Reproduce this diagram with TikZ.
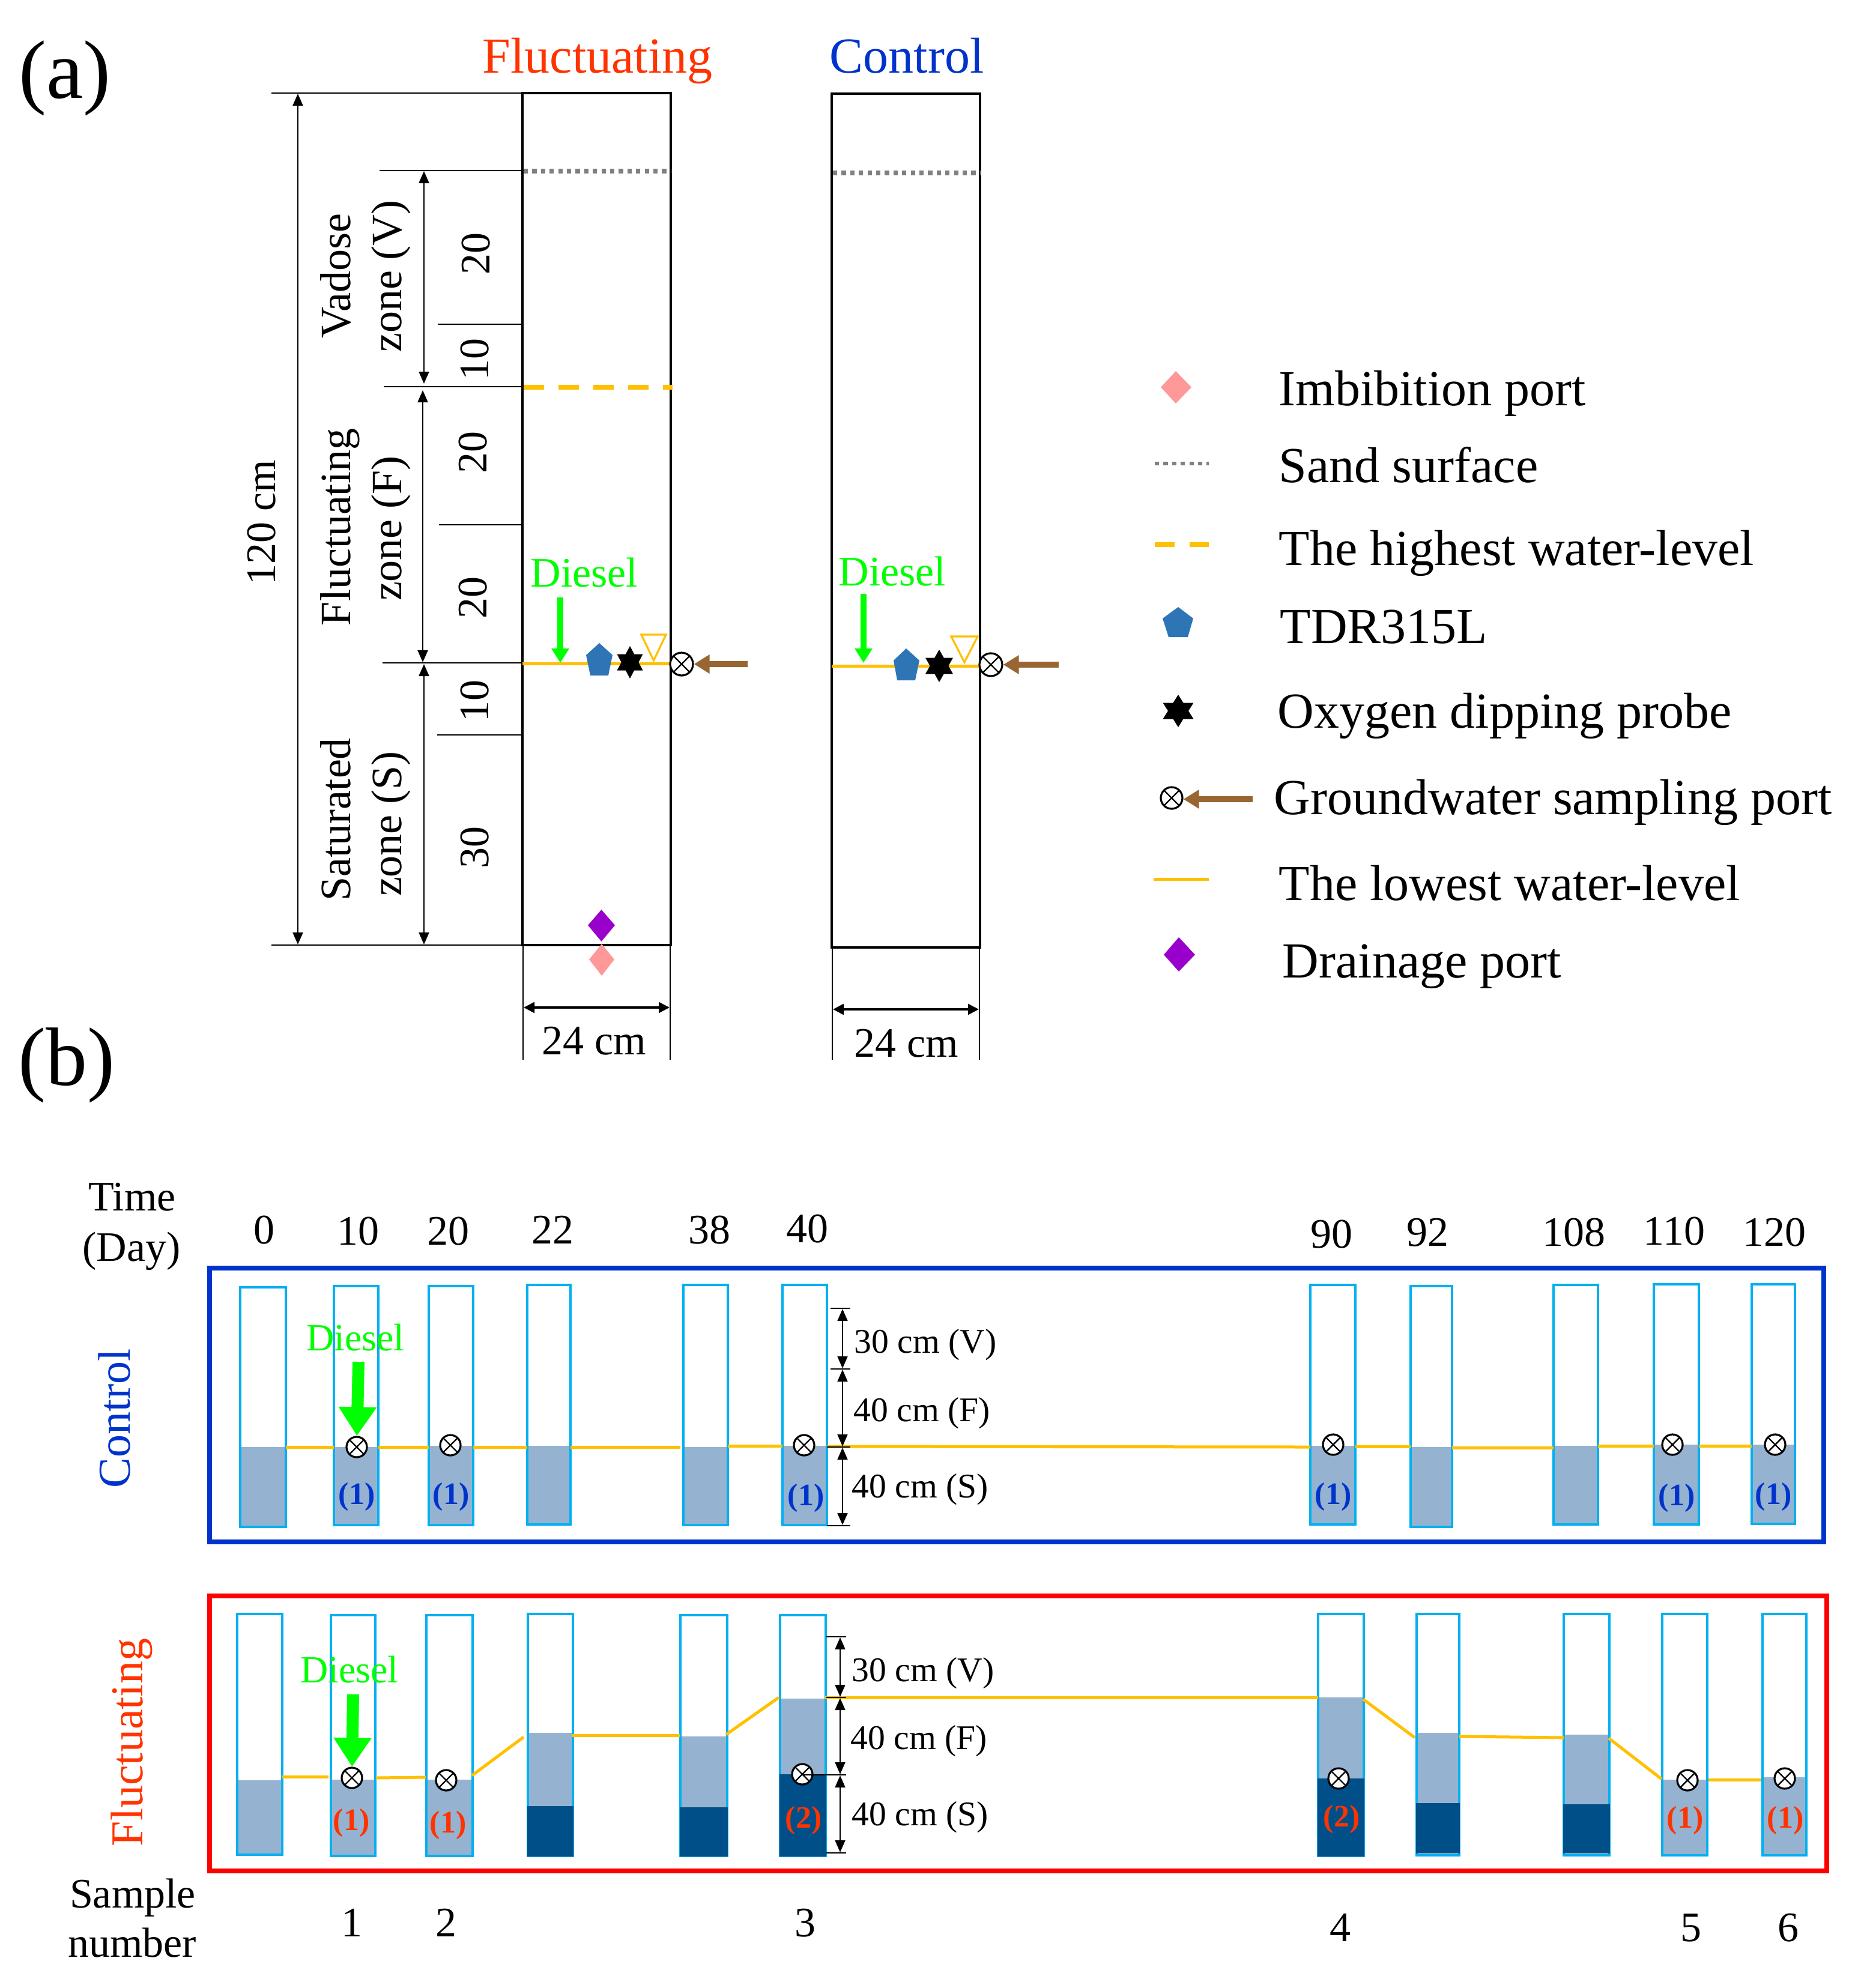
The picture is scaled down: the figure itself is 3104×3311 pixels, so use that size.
\documentclass[tikz,border=0pt]{standalone}
\usepackage{fontspec}
\setmainfont{Liberation Serif}
\usetikzlibrary{arrows.meta}
\definecolor{flucred}{RGB}{255,51,0}
\definecolor{ctrlblue}{RGB}{0,51,204}
\definecolor{tubecyan}{RGB}{0,176,240}
\definecolor{waterlight}{RGB}{149,179,208}
\definecolor{waterdark}{RGB}{0,79,136}
\definecolor{levelorange}{RGB}{255,192,0}
\definecolor{dieselgreen}{RGB}{0,255,0}
\definecolor{sensorblue}{RGB}{46,117,182}
\definecolor{portpink}{RGB}{255,153,153}
\definecolor{portpurple}{RGB}{153,0,204}
\definecolor{arrowbrown}{RGB}{153,102,51}
\tikzset{
  lab/.style={anchor=base,inner sep=0pt,font=\fontsize{17.5}{20}\selectfont},
  lablegend/.style={anchor=base west,inner sep=0pt,font=\fontsize{21}{24}\selectfont},
  labtitle/.style={anchor=base,inner sep=0pt,font=\fontsize{21}{24}\selectfont},
  labpanel/.style={anchor=base,inner sep=0pt,font=\fontsize{34.5}{38}\selectfont},
  labzone/.style={anchor=base west,inner sep=0pt,font=\fontsize{14.4}{17}\selectfont},
  labsample/.style={anchor=base,inner sep=0pt,font=\bfseries\fontsize{13}{15}\selectfont},
  column/.style={draw=black,line width=1.1pt},
  tick/.style={draw=black,line width=0.7pt},
  dim/.style={line width=0.7pt,{Triangle[length=5pt,width=4.2pt]}-{Triangle[length=5pt,width=4.2pt]}},
  dimwide/.style={line width=1pt,{Triangle[length=4.5pt,width=4.4pt]}-{Triangle[length=4.5pt,width=4.4pt]}},
  sandline/.style={draw=gray,line width=1.8pt,dash pattern=on 1.8pt off 1.8pt},
  highline/.style={draw=levelorange,line width=1.9pt,dash pattern=on 8.5pt off 6pt},
  lowline/.style={draw=levelorange,line width=1.25pt},
  tube/.style={draw=tubecyan,line width=1.05pt},
  port/.style={circle,draw=black,fill=white,line width=0.8pt,inner sep=0pt,minimum size=8.5pt,
    path picture={\draw[line width=0.6pt] (path picture bounding box.north west) -- (path picture bounding box.south east)
      (path picture bounding box.north east) -- (path picture bounding box.south west);}},
  brownarrow/.style={draw=arrowbrown,line width=2.5pt,-{Triangle[length=6.5pt,width=7.5pt,fill=arrowbrown]}},
  greenarrow/.style={draw=dieselgreen,line width=2.5pt,-{Triangle[length=6pt,width=7pt,fill=dieselgreen]}},
  greenbig/.style={draw=dieselgreen,line width=5pt,-{Triangle[length=12pt,width=15pt,fill=dieselgreen]}}
}
% six pointed probe mark: centre x, centre y, half width, half height
\newcommand{\oxyprobe}[4]{%
  \fill (#1,#2-#4) -- (#1+#3,#2+#4/2) -- (#1-#3,#2+#4/2) -- cycle;
  \fill (#1,#2+#4) -- (#1+#3,#2-#4/2) -- (#1-#3,#2-#4/2) -- cycle;}
\begin{document}
\begin{tikzpicture}[x=0.25pt,y=0.25pt,yscale=-1,xscale=1]
\useasboundingbox (0,0) rectangle (3104,3311);

%Panel (a) columns
\draw [column] (870,155) rectangle (1117,1574);
\draw [column] (1385,156) rectangle (1632,1578);
%Sand surface and highest level
\draw [sandline] (872,285) -- (1117,285);
\draw [sandline] (1387,288) -- (1632,288);
\draw [highline] (872,645) -- (1120,645);
%Lowest level
\draw [lowline] (870,1105) -- (1117,1105);
\draw [lowline] (1385,1109) -- (1632,1109);
%Left ticks
\draw [tick] (452,155) -- (870,155);
\draw [tick] (632,284) -- (870,284);
\draw [tick] (729,540) -- (870,540);
\draw [tick] (639,644) -- (870,644);
\draw [tick] (731,874) -- (870,874);
\draw [tick] (637,1104) -- (870,1104);
\draw [tick] (728,1224) -- (870,1224);
\draw [tick] (452,1574) -- (870,1574);
%Height arrows
\draw [dim] (496,156) -- (496,1573);
\draw [dim] (706,285) -- (706,639);
\draw [dim] (704,650) -- (704,1103);
\draw [dim] (706,1106) -- (706,1573);
%Width arrows
\draw [tick] (871,1574) -- (871,1765);
\draw [tick] (1116,1574) -- (1116,1765);
\draw [tick] (1386,1578) -- (1386,1765);
\draw [tick] (1631,1578) -- (1631,1765);
\draw [dimwide] (872,1678) -- (1115,1678);
\draw [dimwide] (1387,1681) -- (1630,1681);

%Marks in fluctuating column
\coordinate (dieselFa) at (933,995);
\coordinate (dieselFb) at (933,1104);
\draw [greenarrow] (dieselFa) -- (dieselFb);
\fill [sensorblue] (998,1071) -- (1020,1091) -- (1013,1125) -- (983,1125) -- (976,1091) -- cycle;
\oxyprobe{1049}{1103}{21.5}{27}
\draw [levelorange,line width=0.8pt] (1068,1057) -- (1109,1057) -- (1088.5,1100) -- cycle;
\node (portFa) [port,minimum size=9.5pt] at (1135,1106) {};
\coordinate (inletFa) at (1245,1106);
\draw [brownarrow] (inletFa) -- (portFa);
\fill [portpurple] (1001.5,1515) -- (1024,1541) -- (1001.5,1568) -- (979,1541) -- cycle;
\fill [portpink] (1002,1572) -- (1023,1598) -- (1002,1625) -- (981,1598) -- cycle;

%Marks in control column
\coordinate (dieselCa) at (1438,989);
\coordinate (dieselCb) at (1438,1104);
\draw [greenarrow] (dieselCa) -- (dieselCb);
\fill [sensorblue] (1509,1080) -- (1531,1100) -- (1524,1133) -- (1494,1133) -- (1488,1100) -- cycle;
\oxyprobe{1564}{1109}{23}{27}
\draw [levelorange,line width=0.8pt] (1584,1060) -- (1628,1060) -- (1606,1103) -- cycle;
\node (portCa) [port,minimum size=9.5pt] at (1650,1107) {};
\coordinate (inletCa) at (1763,1107);
\draw [brownarrow] (inletCa) -- (portCa);

% Text Node
\draw (108,163) node (panela) [labpanel] {(a)};
\draw (111,1807) node (panelb) [labpanel] {(b)};
\draw (995,121) node (titleF) [labtitle,flucred] {Fluctuating};
\draw (1510,121) node (titleC) [labtitle,ctrlblue] {Control};
\draw (973,977) node (dieselF) [lab,dieselgreen] {Diesel};
\draw (1486,975) node (dieselC) [lab,dieselgreen] {Diesel};
\draw (989,1756) node (widthF) [lab] {24 cm};
\draw (1509,1760) node (widthC) [lab] {24 cm};
\draw (458,870) node (heightall) [lab,rotate=90] {120 cm};
\draw (583,460) node (zoneVa) [lab,rotate=90,font=\fontsize{18}{20}\selectfont] {Vadose};
\draw (668,460) node (zoneVb) [lab,rotate=90,font=\fontsize{18}{20}\selectfont] {zone (V)};
\draw (583,878) node (zoneFa) [lab,rotate=90,font=\fontsize{18}{20}\selectfont] {Fluctuating};
\draw (668,880) node (zoneFb) [lab,rotate=90,font=\fontsize{18}{20}\selectfont] {zone (F)};
\draw (583,1365) node (zoneSa) [lab,rotate=90,font=\fontsize{18}{20}\selectfont] {Saturated};
\draw (668,1372) node (zoneSb) [lab,rotate=90,font=\fontsize{18}{20}\selectfont] {zone (S)};
\draw (815,422) node (parta) [lab,rotate=90] {20};
\draw (813,598) node (partb) [lab,rotate=90] {10};
\draw (810,753) node (partc) [lab,rotate=90] {20};
\draw (810,995) node (partd) [lab,rotate=90] {20};
\draw (813,1167) node (parte) [lab,rotate=90] {10};
\draw (813,1411) node (partf) [lab,rotate=90] {30};

%Legend
\fill [portpink] (1958,618) -- (1984,645) -- (1958,672) -- (1933,645) -- cycle;
\draw [sandline,line width=1.4pt] (1923,772) -- (2013,772);
\draw [highline,dash pattern=on 8.2pt off 6.2pt] (1923,907) -- (2016,907);
\fill [sensorblue] (1962,1011) -- (1987,1030) -- (1978,1061) -- (1946,1061) -- (1936,1030) -- cycle;
\oxyprobe{1962}{1184}{25.5}{27}
\node (portL) [port,minimum size=9pt] at (1951,1329) {};
\coordinate (inletL) at (2086,1331);
\draw [brownarrow] (inletL) -- (inletL -| portL.east);
\draw [lowline] (1921,1464) -- (2013,1464);
\fill [portpurple] (1963,1561) -- (1990,1590) -- (1963,1618) -- (1938,1590) -- cycle;
% Text Node
\draw (2129,675) node (legImb) [lablegend] {Imbibition port};
\draw (2129,803) node (legSand) [lablegend] {Sand surface};
\draw (2129,941) node (legHigh) [lablegend] {The highest water-level};
\draw (2131,1071) node (legTdr) [lablegend] {TDR315L};
\draw (2127,1212) node (legOxy) [lablegend] {Oxygen dipping probe};
\draw (2121,1356) node (legGw) [lablegend] {Groundwater sampling port};
\draw (2129,1499) node (legLow) [lablegend] {The lowest water-level};
\draw (2135,1628) node (legDrain) [lablegend] {Drainage port};

%Panel (b) frames
\draw [ctrlblue,line width=2pt] (349,2112) rectangle (3037,2568);
\draw [red,line width=2pt] (349,2658) rectangle (3042,3116);

%Control water
\fill [waterlight] (400,2410) rectangle (476,2543);
\fill [waterlight] (556,2410) rectangle (630,2540);
\fill [waterlight] (714,2408) rectangle (788,2540);
\fill [waterlight] (878,2408) rectangle (950,2539);
\fill [waterlight] (1138,2410) rectangle (1212,2540);
\fill [waterlight] (1303,2408) rectangle (1377,2540);
\fill [waterlight] (2182,2408) rectangle (2257,2539);
\fill [waterlight] (2349,2410) rectangle (2418,2543);
\fill [waterlight] (2587,2408) rectangle (2661,2539);
\fill [waterlight] (2754,2406) rectangle (2829,2539);
\fill [waterlight] (2917,2406) rectangle (2989,2538);
%Control tubes
\draw [tube] (400,2144) rectangle (476,2543);
\draw [tube] (556,2142) rectangle (630,2540);
\draw [tube] (714,2142) rectangle (788,2540);
\draw [tube] (878,2140) rectangle (950,2539);
\draw [tube] (1138,2140) rectangle (1212,2540);
\draw [tube] (1303,2140) rectangle (1377,2540);
\draw [tube] (2182,2140) rectangle (2257,2539);
\draw [tube] (2349,2142) rectangle (2418,2543);
\draw [tube] (2587,2140) rectangle (2661,2539);
\draw [tube] (2754,2139) rectangle (2829,2539);
\draw [tube] (2917,2139) rectangle (2989,2538);
%Control level
\draw [lowline] (476,2410) -- (556,2410);
\draw [lowline] (630,2410) -- (714,2410);
\draw [lowline] (788,2410) -- (878,2410);
\draw [lowline] (950,2410) -- (1133,2410);
\draw [lowline] (1212,2408) -- (1303,2408);
\draw [lowline] (1377,2409) -- (2182,2410);
\draw [lowline] (2257,2409) -- (2349,2409);
\draw [lowline] (2418,2411) -- (2587,2411);
\draw [lowline] (2661,2408) -- (2754,2408);
\draw [lowline] (2829,2408) -- (2917,2408);
%Control ports
\node (portCb) [port] at (594,2410) {};
\node (portCc) [port] at (750,2407) {};
\node (portCd) [port] at (1339,2407) {};
\node (portCe) [port] at (2220,2406) {};
\node (portCf) [port] at (2785,2406) {};
\node (portCg) [port] at (2956,2406) {};
\coordinate (inletCb) at (597,2268);
\draw [greenbig] (inletCb) -- (portCb);
%Control scale
\draw [tick] (1383,2179) -- (1416,2179);
\draw [tick] (1383,2280) -- (1416,2280);
\draw [tick] (1377,2410) -- (1416,2410);
\draw [tick] (1377,2541) -- (1416,2541);
\draw [dim,line width=0.6pt] (1403,2180) -- (1403,2279);
\draw [dim,line width=0.6pt] (1403,2281) -- (1403,2409);
\draw [dim,line width=0.6pt] (1403,2411) -- (1403,2540);

%Fluctuating water
\fill [waterlight] (395,2965) rectangle (470,3089);
\fill [waterlight] (551,2964) rectangle (625,3091);
\fill [waterlight] (710,2964) rectangle (787,3091);
\fill [waterlight] (879,2886) rectangle (954,3008);
\fill [waterlight] (1133,2892) rectangle (1211,3010);
\fill [waterlight] (1299,2829) rectangle (1375,2955);
\fill [waterlight] (2195,2827) rectangle (2271,2962);
\fill [waterlight] (2359,2886) rectangle (2430,3003);
\fill [waterlight] (2604,2889) rectangle (2680,3005);
\fill [waterlight] (2768,2964) rectangle (2843,3090);
\fill [waterlight] (2935,2960) rectangle (3008,3090);
%Fluctuating tubes
\draw [tube] (395,2688) rectangle (470,3089);
\draw [tube] (551,2690) rectangle (625,3091);
\draw [tube] (710,2690) rectangle (787,3091);
\draw [tube] (879,2688) rectangle (954,3091);
\draw [tube] (1133,2690) rectangle (1211,3091);
\draw [tube] (1299,2690) rectangle (1375,3091);
\draw [tube] (2195,2688) rectangle (2271,3091);
\draw [tube] (2359,2688) rectangle (2430,3090);
\draw [tube] (2604,2688) rectangle (2680,3090);
\draw [tube] (2768,2688) rectangle (2843,3090);
\draw [tube] (2935,2688) rectangle (3008,3090);
%Fluctuating dark water
\fill [waterdark] (878,3008) rectangle (955,3092);
\fill [waterdark] (1132,3010) rectangle (1212,3092);
\fill [waterdark] (1298,2955) rectangle (1376,3092);
\fill [waterdark] (2194,2962) rectangle (2272,3092);
\fill [waterdark] (2358,3003) rectangle (2431,3087);
\fill [waterdark] (2603,3005) rectangle (2681,3087);
%Fluctuating level
\draw [lowline] (470,2959) -- (547,2959);
\draw [lowline] (626,2961) -- (709,2960);
\draw [lowline] (786,2957) -- (872,2893);
\draw [lowline] (952,2890) -- (1132,2890);
\draw [lowline] (1209,2889) -- (1297,2827);
\draw [lowline] (1374,2827) -- (2195,2827);
\draw [lowline] (2270,2830) -- (2356,2894);
\draw [lowline] (2430,2892) -- (2604,2894);
\draw [lowline] (2679,2895) -- (2767,2963);
\draw [lowline] (2845,2964) -- (2933,2964);
%Fluctuating ports
\node (portFb) [port] at (586,2961) {};
\node (portFc) [port] at (743,2965) {};
\node (portFd) [port] at (1336,2955) {};
\node (portFe) [port] at (2229,2962) {};
\node (portFf) [port] at (2810,2965) {};
\node (portFg) [port] at (2972,2962) {};
\coordinate (inletFb) at (588,2822);
\draw [greenbig] (inletFb) -- (portFb);
%Fluctuating scale
\draw [tick] (1376,2726) -- (1409,2726);
\draw [tick] (1376,2827) -- (1409,2827);
\draw [tick] (1336,2956) -- (1409,2956);
\draw [tick] (1376,3086) -- (1409,3086);
\draw [dim,line width=0.6pt] (1399,2727) -- (1399,2826);
\draw [dim,line width=0.6pt] (1399,2828) -- (1399,2955);
\draw [dim,line width=0.6pt] (1399,2957) -- (1399,3085);

% Text Node
\draw (220,2016) node (timea) [lab] {Time};
\draw (219,2100) node (timeb) [lab] {(Day)};
\draw (440,2071) node (dayA) [lab] {0};
\draw (596,2073) node (dayB) [lab] {10};
\draw (746,2073) node (dayC) [lab] {20};
\draw (920,2071) node (dayD) [lab] {22};
\draw (1181,2071) node (dayE) [lab] {38};
\draw (1344,2069) node (dayF) [lab] {40};
\draw (2217,2078) node (dayG) [lab] {90};
\draw (2377,2075) node (dayH) [lab] {92};
\draw (2621,2075) node (dayI) [lab] {108};
\draw (2788,2073) node (dayJ) [lab] {110};
\draw (2955,2075) node (dayK) [lab] {120};
\draw (216,2362) node (sideC) [labtitle,ctrlblue,rotate=90,font=\fontsize{19}{22}\selectfont] {Control};
\draw (237,2902) node (sideF) [labtitle,flucred,rotate=90,font=\fontsize{19}{22}\selectfont] {Fluctuating};
\draw (592,2249) node (dieselCb) [lab,dieselgreen,font=\fontsize{16}{18}\selectfont] {Diesel};
\draw (582,2802) node (dieselFb) [lab,dieselgreen,font=\fontsize{16}{18}\selectfont] {Diesel};
\draw (1422,2253) node (zoneCa) [labzone] {30 cm (V)};
\draw (1421,2367) node (zoneCb) [labzone] {40 cm (F)};
\draw (1418,2494) node (zoneCc) [labzone] {40 cm (S)};
\draw (1418,2800) node (zoneFa) [labzone] {30 cm (V)};
\draw (1416,2913) node (zoneFb) [labzone] {40 cm (F)};
\draw (1418,3040) node (zoneFc) [labzone] {40 cm (S)};
\draw (594,2505) node (sampCa) [labsample,ctrlblue] {(1)};
\draw (751,2505) node (sampCb) [labsample,ctrlblue] {(1)};
\draw (1342,2507) node (sampCc) [labsample,ctrlblue] {(1)};
\draw (2220,2505) node (sampCd) [labsample,ctrlblue] {(1)};
\draw (2792,2507) node (sampCe) [labsample,ctrlblue] {(1)};
\draw (2953,2505) node (sampCf) [labsample,ctrlblue] {(1)};
\draw (585,3048) node (sampFa) [labsample,flucred] {(1)};
\draw (746,3052) node (sampFb) [labsample,flucred] {(1)};
\draw (1338,3044) node (sampFc) [labsample,flucred] {(2)};
\draw (2234,3042) node (sampFd) [labsample,flucred] {(2)};
\draw (2806,3044) node (sampFe) [labsample,flucred] {(1)};
\draw (2973,3044) node (sampFf) [labsample,flucred] {(1)};
\draw (221,3177) node (samplea) [lab] {Sample};
\draw (220,3259) node (sampleb) [lab] {number};
\draw (586,3225) node (numA) [lab] {1};
\draw (743,3225) node (numB) [lab] {2};
\draw (1341,3225) node (numC) [lab] {3};
\draw (2232,3233) node (numD) [lab] {4};
\draw (2816,3233) node (numE) [lab] {5};
\draw (2978,3233) node (numF) [lab] {6};

\end{tikzpicture}
\end{document}
